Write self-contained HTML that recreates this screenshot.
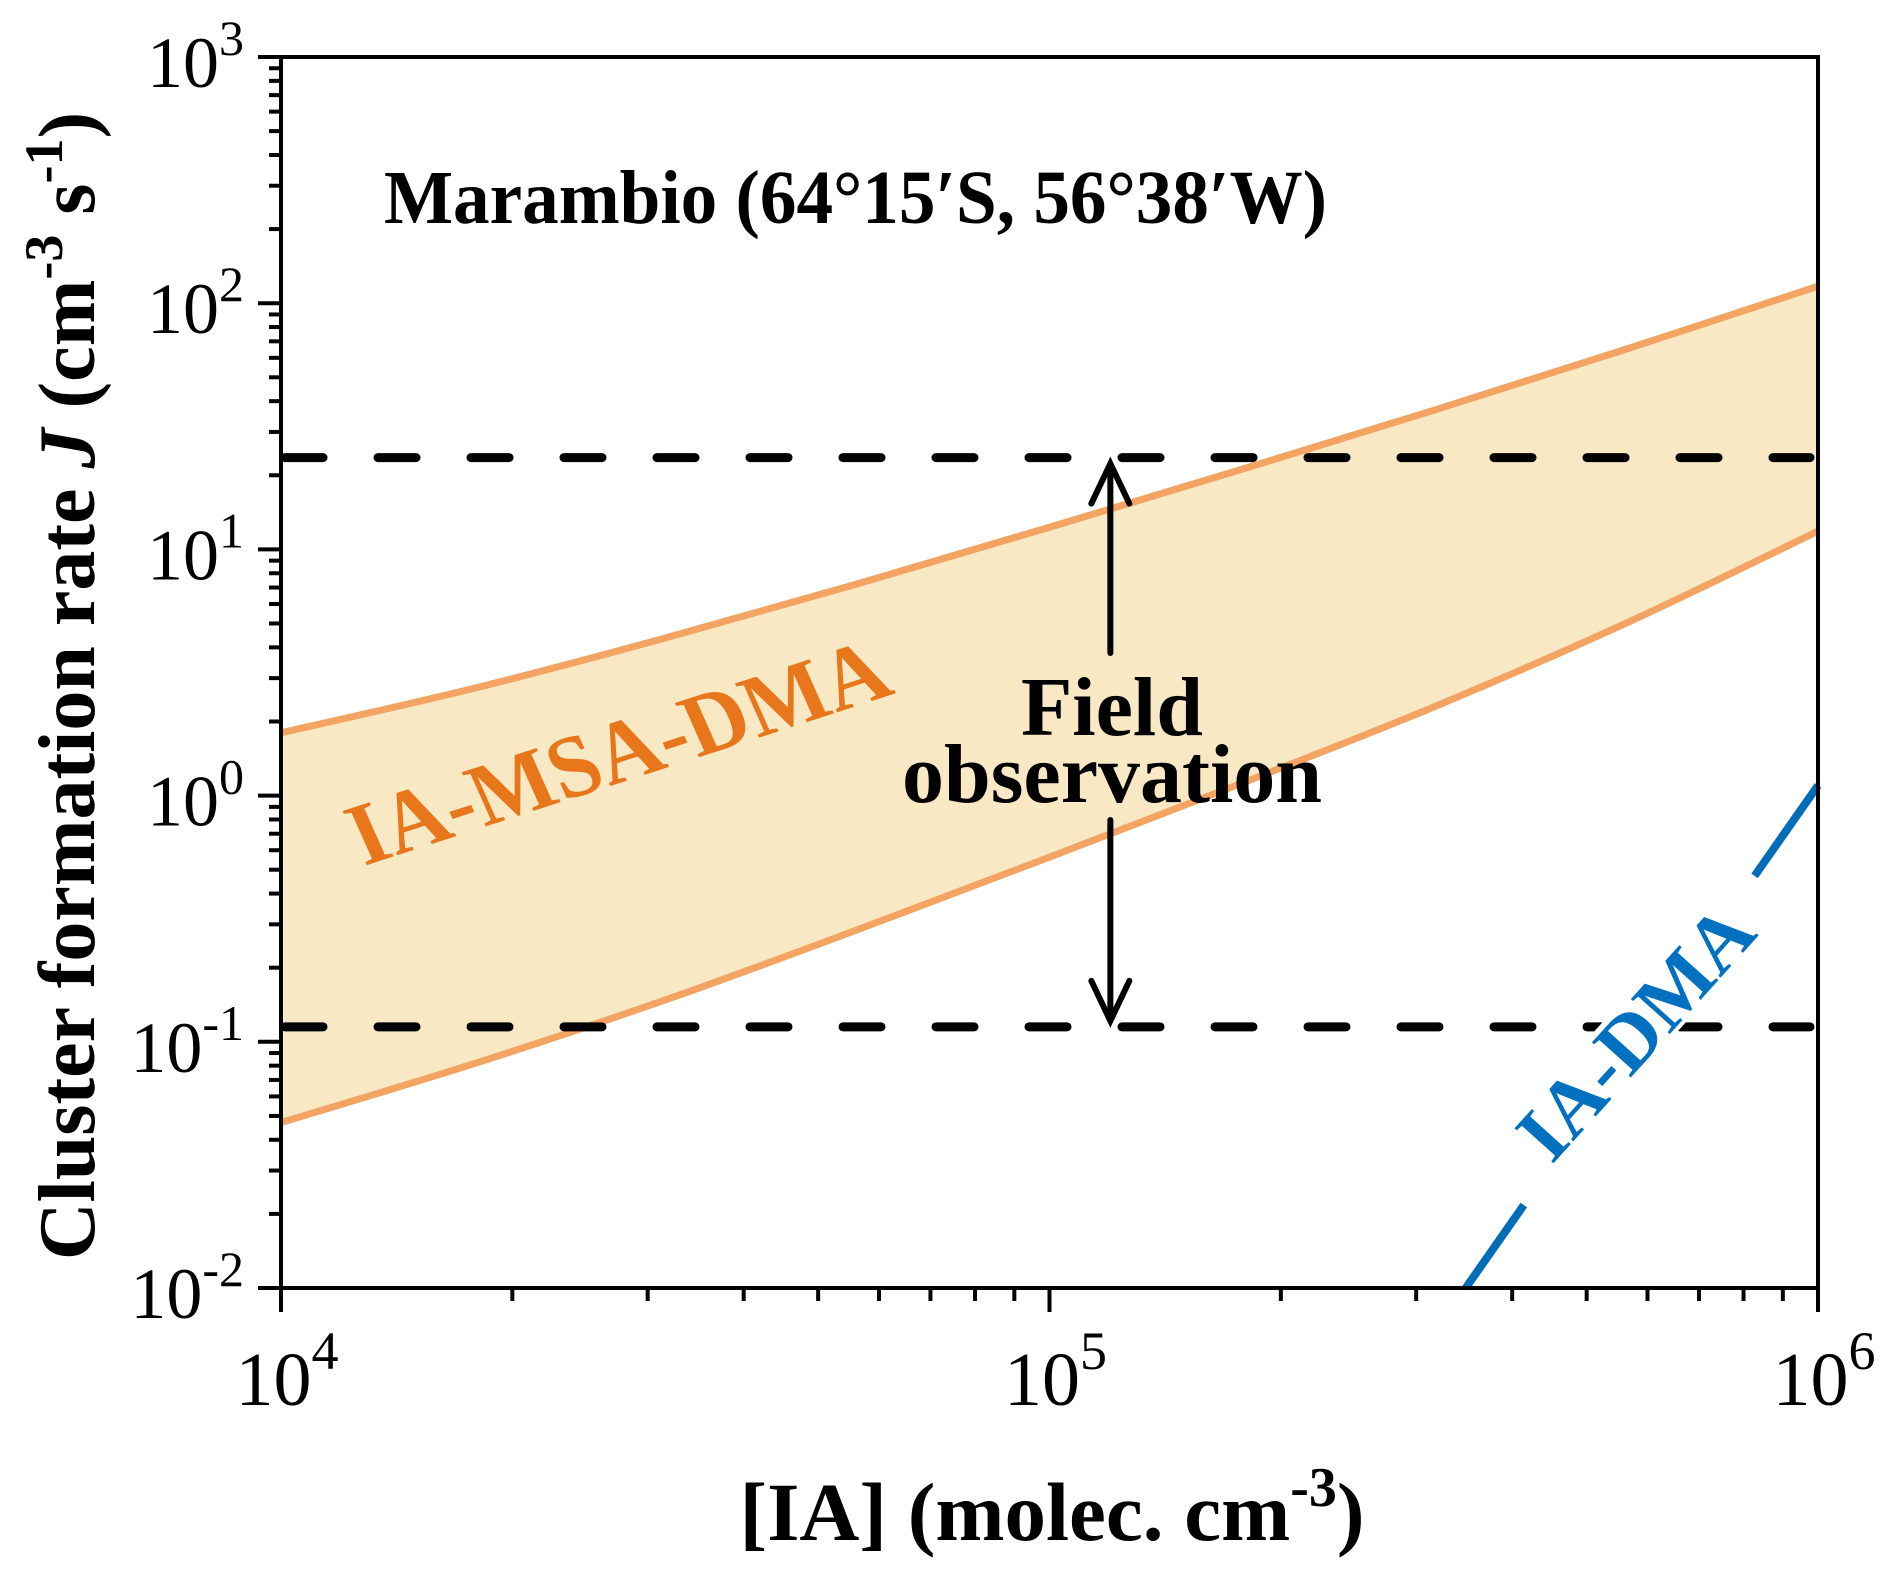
<!DOCTYPE html>
<html><head><meta charset="utf-8"><style>
html,body{margin:0;padding:0;background:#fff;}
svg{display:block;font-family:"Liberation Serif",serif;}
</style></head><body>
<svg id="chart" width="1892" height="1573" viewBox="0 0 1892 1573" xmlns="http://www.w3.org/2000/svg">
<rect x="0" y="0" width="1892" height="1573" fill="#fff"/>
<g id="plot"></g>
</svg>
<script>
const xLogs = [4, 4.25, 4.5, 4.75, 5, 5.25, 5.5, 5.75, 6];
const upperLogJ = [0.255, 0.435, 0.64, 0.86, 1.09, 1.325, 1.565, 1.813, 2.069];
const lowerLogJ = [-1.328, -1.09, -0.83, -0.545, -0.25, 0.05, 0.36, 0.70, 1.074];
const obsHigh = 23.6;
const obsLow = 0.115;
const iaDmaX = [3.48e5, 1e6];
const iaDmaJ = [0.01, 1.1];
const yTickExps = [-2, -1, 0, 1, 2, 3];
const xTickExps = [4, 5, 6];

const L = 281, R = 1818, T = 57, B = 1288;
const NS = 'http://www.w3.org/2000/svg';
const g = document.getElementById('plot');
function X(v){ return L + (Math.log10(v) - 4) / 2 * (R - L); }
function XL(l){ return L + (l - 4) / 2 * (R - L); }
function Y(v){ return B - (Math.log10(v) + 2) / 5 * (B - T); }
function YL(l){ return B - (l + 2) / 5 * (B - T); }
function mk(tag, attrs, parent){
  const e = document.createElementNS(NS, tag);
  for (const k in attrs) e.setAttribute(k, attrs[k]);
  (parent || g).appendChild(e);
  return e;
}
function smooth(pts){
  let d = 'M' + pts[0][0] + ',' + pts[0][1];
  for (let i = 0; i < pts.length - 1; i++) {
    const p0 = pts[Math.max(0, i - 1)], p1 = pts[i], p2 = pts[i + 1], p3 = pts[Math.min(pts.length - 1, i + 2)];
    const c1 = [p1[0] + (p2[0] - p0[0]) / 6, p1[1] + (p2[1] - p0[1]) / 6];
    const c2 = [p2[0] - (p3[0] - p1[0]) / 6, p2[1] - (p3[1] - p1[1]) / 6];
    d += ' C' + c1[0] + ',' + c1[1] + ' ' + c2[0] + ',' + c2[1] + ' ' + p2[0] + ',' + p2[1];
  }
  return d;
}
const up = xLogs.map((l, i) => [XL(l), YL(upperLogJ[i])]);
const lo = xLogs.map((l, i) => [XL(l), YL(lowerLogJ[i])]);
const loRev = lo.slice().reverse();
const bandD = smooth(up) + ' L' + loRev[0][0] + ',' + loRev[0][1] + smooth(loRev).replace(/^M[^C]*/, ' ') + ' Z';
const band = mk('path', {d: bandD, fill: '#f8e8c4', stroke: 'none'});


const uc = mk('path', {d: smooth(up), fill: 'none', stroke: '#f3a463', 'stroke-width': 7});


const lc = mk('path', {d: smooth(lo), fill: 'none', stroke: '#f3a463', 'stroke-width': 7});



[obsHigh, obsLow].forEach((v, i) => {
  const ln = mk('line', {x1: L + 4, x2: R - 8, y1: Y(v), y2: Y(v), stroke: '#000', 'stroke-width': 9, 'stroke-linecap': 'round', 'stroke-dasharray': '38 55'});
  
  
});

const bx0 = X(iaDmaX[0]), by0 = Y(iaDmaJ[0]), bx1 = X(iaDmaX[1]), by1 = Y(iaDmaJ[1]);
function lerp(t){ return [bx0 + (bx1 - bx0) * t, by0 + (by1 - by0) * t]; }
const s1 = lerp(0.165), s2 = lerp(0.82);
const b1 = mk('line', {x1: bx0, y1: by0, x2: s1[0], y2: s1[1], stroke: '#006db6', 'stroke-width': 8});


const b2 = mk('line', {x1: s2[0], y1: s2[1], x2: bx1, y2: by1, stroke: '#006db6', 'stroke-width': 8});


const tp = lerp(0.244);
const bg = mk('rect', {x: 0, y: -58, width: 312, height: 62, fill: '#fff', transform: 'translate(' + tp[0] + ',' + tp[1] + ') rotate(-48)'});


const bt = mk('text', {x: 0, y: 0, 'font-size': 80, 'font-weight': 'bold', fill: '#0070c0', textLength: 310, lengthAdjust: 'spacingAndGlyphs', transform: 'translate(' + tp[0] + ',' + tp[1] + ') rotate(-48)'});
bt.textContent = 'IA-DMA';



const ax = X(1.2e5);
const a1 = mk('path', {d: 'M' + ax + ',653 L' + ax + ',' + (Y(obsHigh) + 6) + ' M' + (ax - 19) + ',' + (Y(obsHigh) + 46) + ' L' + ax + ',' + (Y(obsHigh) + 6) + ' L' + (ax + 19) + ',' + (Y(obsHigh) + 46), fill: 'none', stroke: '#000', 'stroke-width': 6, 'stroke-linecap': 'round'});


const a2 = mk('path', {d: 'M' + ax + ',820 L' + ax + ',' + (Y(obsLow) - 6) + ' M' + (ax - 19) + ',' + (Y(obsLow) - 46) + ' L' + ax + ',' + (Y(obsLow) - 6) + ' L' + (ax + 19) + ',' + (Y(obsLow) - 46), fill: 'none', stroke: '#000', 'stroke-width': 6, 'stroke-linecap': 'round'});



const fr = mk('rect', {x: L, y: T, width: R - L, height: B - T, fill: 'none', stroke: '#000', 'stroke-width': 4});



yTickExps.forEach(e => {
  const y = Y(Math.pow(10, e));
  const t = mk('line', {x1: L - 23, x2: L, y1: y, y2: y, stroke: '#000', 'stroke-width': 4});
  
  
  const lb = mk('text', {x: 244, y: y + 30, 'text-anchor': 'end', 'font-size': 72, fill: '#000'});
  lb.innerHTML = '10<tspan font-size="50" dy="-32">' + (e < 0 ? '-' + (-e) : e) + '</tspan>';
  
  
  if (e < 3) for (let k = 2; k <= 9; k++) {
    const yy = Y(k * Math.pow(10, e));
    const m = mk('line', {x1: L - 12, x2: L, y1: yy, y2: yy, stroke: '#000', 'stroke-width': 4});
    
    
  }
});
xTickExps.forEach(e => {
  const x = X(Math.pow(10, e));
  const t = mk('line', {x1: x, x2: x, y1: B, y2: B + 24, stroke: '#000', 'stroke-width': 4});
  
  
  const lb = mk('text', {x: x + 6, y: 1405, 'text-anchor': 'middle', 'font-size': 76, fill: '#000'});
  lb.innerHTML = '10<tspan font-size="54" dy="-36">' + e + '</tspan>';
  
  
  if (e < 6) for (let k = 2; k <= 9; k++) {
    const xx = X(k * Math.pow(10, e));
    const m = mk('line', {x1: xx, x2: xx, y1: B, y2: B + 13, stroke: '#000', 'stroke-width': 4});
    
    
  }
});
</script>
<svg style="position:absolute;left:0;top:0" width="1892" height="1573" viewBox="0 0 1892 1573" xmlns="http://www.w3.org/2000/svg">
<text x="384" y="223" font-size="76" font-weight="bold" textLength="943" lengthAdjust="spacingAndGlyphs">Marambio (64°15′S, 56°38′W)</text>
<text x="1112" y="735" text-anchor="middle" font-size="84" font-weight="bold">Field</text>
<text x="1112" y="802" text-anchor="middle" font-size="84" font-weight="bold">observation</text>
<text transform="translate(364,866) rotate(-18) skewX(6)" font-size="90" font-weight="bold" fill="#e8761a" textLength="560" lengthAdjust="spacingAndGlyphs">IA-MSA-DMA</text>
<text x="1052" y="1540" text-anchor="middle" font-size="83" font-weight="bold">[IA] (molec. cm<tspan font-size="56" dy="-34">-3</tspan><tspan dy="34">)</tspan></text>
<text transform="translate(94,686) rotate(-90)" text-anchor="middle" font-size="80" font-weight="bold">Cluster formation rate <tspan font-style="italic">J</tspan> (cm<tspan font-size="54" dy="-32">-3</tspan><tspan dy="32"> s</tspan><tspan font-size="54" dy="-32">-1</tspan><tspan dy="32">)</tspan></text>
</svg>
</body></html>
